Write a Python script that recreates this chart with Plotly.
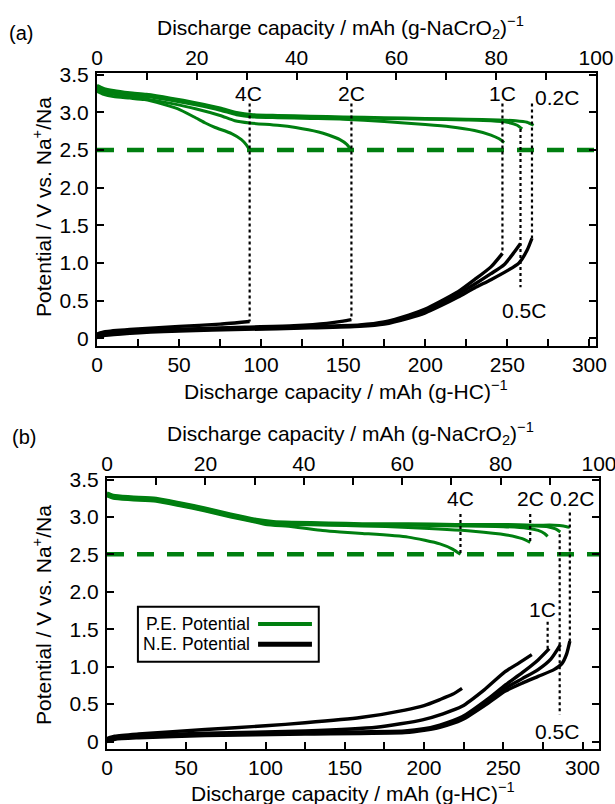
import plotly.graph_objects as go

W, H = 615, 804
FONT = "Liberation Sans, Arial, sans-serif"
GREEN = "#007f10"
BLACK = "#000000"

# ---------------- Panel (a) data: x = discharge capacity / mAh (g-HC)^-1 ----------------
rates = ["4C", "2C", "1C", "0.5C", "0.2C"]

# positive electrode potentials (a)
a_pe_4C_x = [0, 4, 10, 20, 29, 40, 49, 60, 66, 72, 82, 88, 91, 93]
a_pe_4C_y = [3.28, 3.24, 3.21, 3.19, 3.17, 3.11, 3.05, 2.93, 2.86, 2.80, 2.72, 2.64, 2.57, 2.50]
a_pe_2C_x = [0, 4, 10, 20, 30, 45, 60, 75, 84, 93, 110, 121, 135, 141, 148, 152, 155]
a_pe_2C_y = [3.30, 3.26, 3.24, 3.21, 3.18, 3.12, 3.05, 2.96, 2.89, 2.86, 2.83, 2.80, 2.74, 2.70, 2.64, 2.58, 2.50]
a_pe_1C_x = [0, 4, 10, 20, 30, 45, 60, 75, 85, 95, 110, 130, 150, 175, 200, 215, 230, 240, 245, 248]
a_pe_1C_y = [3.32, 3.28, 3.26, 3.23, 3.21, 3.16, 3.10, 3.03, 2.97, 2.94, 2.93, 2.92, 2.91, 2.88, 2.84, 2.81, 2.76, 2.70, 2.65, 2.60]
a_pe_05C_x = [0, 4, 10, 20, 30, 45, 60, 75, 85, 95, 110, 130, 150, 175, 200, 225, 240, 250, 256, 259]
a_pe_05C_y = [3.34, 3.30, 3.28, 3.25, 3.23, 3.18, 3.12, 3.05, 2.99, 2.96, 2.95, 2.94, 2.93, 2.92, 2.91, 2.90, 2.89, 2.87, 2.83, 2.78]
a_pe_02C_x = [0, 4, 10, 20, 30, 45, 60, 75, 85, 95, 110, 130, 150, 175, 200, 225, 245, 255, 262, 266]
a_pe_02C_y = [3.36, 3.32, 3.29, 3.26, 3.24, 3.19, 3.13, 3.06, 3.00, 2.97, 2.96, 2.95, 2.94, 2.93, 2.92, 2.91, 2.90, 2.89, 2.87, 2.83]

# negative electrode potentials (a)
a_ne_4C_x = [0, 5, 20, 50, 75, 93]
a_ne_4C_y = [0.06, 0.09, 0.12, 0.16, 0.19, 0.225]
a_ne_2C_x = [0, 5, 20, 50, 90, 120, 140, 150, 155]
a_ne_2C_y = [0.04, 0.07, 0.09, 0.12, 0.15, 0.17, 0.20, 0.23, 0.25]
a_ne_1C_x = [0, 5, 20, 50, 90, 130, 160, 175, 190, 200, 210, 220, 230, 240, 247]
a_ne_1C_y = [0.03, 0.06, 0.09, 0.12, 0.14, 0.16, 0.18, 0.22, 0.31, 0.39, 0.50, 0.62, 0.78, 0.95, 1.13]
a_ne_05C_x = [0, 5, 20, 50, 90, 130, 160, 175, 190, 200, 210, 220, 230, 240, 248, 254, 258]
a_ne_05C_y = [0.02, 0.05, 0.08, 0.11, 0.13, 0.15, 0.17, 0.21, 0.29, 0.37, 0.47, 0.59, 0.72, 0.86, 0.98, 1.14, 1.26]
a_ne_02C_x = [0, 5, 20, 50, 90, 130, 160, 175, 190, 200, 210, 220, 230, 240, 250, 257, 262, 265]
a_ne_02C_y = [0.01, 0.04, 0.07, 0.10, 0.12, 0.14, 0.16, 0.19, 0.27, 0.34, 0.44, 0.55, 0.67, 0.78, 0.90, 1.00, 1.17, 1.33]

# dotted rate markers (a)
a_mark_x = [93, 155, 247, 258, 265]
a_mark_top = [3.12, 3.12, 3.12, 2.78, 3.12]
a_mark_bottom = [0.225, 0.25, 1.13, 0.68, 1.33]
a_label_x = [92, 155, 247, 260, 280]
a_label_y = [3.25, 3.25, 3.25, 0.37, 3.20]

# ---------------- Panel (b) data ----------------
b_pe_4C_x = [0, 4, 15, 31, 46, 62, 78, 94, 100, 117, 136, 147, 161, 190, 210, 218, 223]
b_pe_4C_y = [3.28, 3.25, 3.23, 3.21, 3.15, 3.08, 3.00, 2.93, 2.90, 2.87, 2.82, 2.80, 2.78, 2.73, 2.64, 2.57, 2.50]
b_pe_2C_x = [0, 4, 15, 31, 46, 62, 78, 94, 105, 117, 140, 161, 190, 231, 252, 262, 267]
b_pe_2C_y = [3.29, 3.26, 3.24, 3.22, 3.16, 3.09, 3.01, 2.94, 2.91, 2.90, 2.89, 2.88, 2.86, 2.81, 2.76, 2.71, 2.66]
b_pe_1C_x = [0, 4, 15, 31, 46, 62, 78, 94, 105, 117, 140, 161, 190, 220, 250, 265, 272, 276, 278]
b_pe_1C_y = [3.30, 3.27, 3.25, 3.23, 3.17, 3.10, 3.02, 2.95, 2.92, 2.91, 2.90, 2.89, 2.89, 2.88, 2.87, 2.85, 2.82, 2.78, 2.74]
b_pe_05C_x = [0, 4, 15, 31, 46, 62, 78, 94, 105, 117, 140, 161, 190, 220, 250, 270, 278, 283, 286]
b_pe_05C_y = [3.31, 3.28, 3.26, 3.24, 3.18, 3.11, 3.03, 2.96, 2.93, 2.92, 2.91, 2.90, 2.90, 2.89, 2.89, 2.88, 2.87, 2.84, 2.80]
b_pe_02C_x = [0, 4, 15, 31, 46, 62, 78, 94, 105, 117, 140, 161, 190, 220, 250, 270, 282, 288, 292]
b_pe_02C_y = [3.32, 3.29, 3.27, 3.25, 3.19, 3.12, 3.04, 2.97, 2.94, 2.93, 2.92, 2.91, 2.91, 2.90, 2.90, 2.89, 2.89, 2.88, 2.86]

b_ne_4C_x = [0, 5, 20, 62, 100, 125, 160, 188, 200, 210, 218, 224]
b_ne_4C_y = [0.04, 0.07, 0.10, 0.16, 0.21, 0.25, 0.32, 0.42, 0.48, 0.56, 0.63, 0.71]
b_ne_2C_x = [0, 5, 20, 62, 125, 170, 199, 212, 224, 238, 251, 260, 268]
b_ne_2C_y = [0.03, 0.06, 0.08, 0.11, 0.14, 0.19, 0.29, 0.37, 0.47, 0.69, 0.93, 1.05, 1.16]
b_ne_1C_x = [0, 5, 20, 62, 125, 188, 200, 210, 224, 241, 251, 262, 272, 279]
b_ne_1C_y = [0.02, 0.05, 0.07, 0.10, 0.12, 0.14, 0.17, 0.22, 0.33, 0.58, 0.75, 0.92, 1.09, 1.24]
b_ne_05C_x = [0, 5, 20, 62, 125, 188, 200, 210, 224, 241, 251, 262, 272, 280, 286]
b_ne_05C_y = [0.01, 0.04, 0.06, 0.09, 0.11, 0.13, 0.16, 0.20, 0.31, 0.55, 0.71, 0.84, 0.96, 1.10, 1.29]
b_ne_02C_x = [0, 5, 20, 62, 125, 188, 200, 210, 224, 241, 251, 262, 272, 282, 287, 290, 292]
b_ne_02C_y = [0.00, 0.03, 0.05, 0.08, 0.10, 0.12, 0.15, 0.19, 0.29, 0.52, 0.67, 0.78, 0.87, 0.96, 1.04, 1.17, 1.34]

b_mark_x = [223, 267, 278, 285.6, 292]
b_mark_top = [3.04, 3.04, 1.60, 2.77, 3.06]
b_mark_bottom = [2.50, 2.66, 1.24, 0.36, 1.33]
b_label_x = [223, 267, 275, 284, 293.5]
b_label_y = [3.24, 3.24, 1.76, 0.13, 3.24]

cutoff_v = 2.5

y_ticks = [0, 0.5, 1.0, 1.5, 2.0, 2.5, 3.0, 3.5]
y_ticktext = ["0", "0.5", "1.0", "1.5", "2.0", "2.5", "3.0", "3.5"]
hc_ticks = [0, 50, 100, 150, 200, 250, 300]
hc_minor = [25, 75, 125, 175, 225, 275]
cat_ticks = [0, 20, 40, 60, 80, 100]
cat_minor = [10, 30, 50, 70, 90]

# ---------------- geometry (pixels) ----------------
A = dict(l=97, r=596, t=72.5, b=346, xr=[0, 304], yr=[-0.1, 3.53])
B = dict(l=107, r=599, t=478, b=749, xr=[0, 310.4], yr=[-0.1, 3.52])

def px(x):
    return x / W

def py(y):
    return 1 - y / H

fig = go.Figure()

def add_panel(xa, xa_top, ya, pe, ne, mark_x, mark_top, mark_bot):
    fig.add_trace(go.Scatter(x=[0, 400], y=[cutoff_v, cutoff_v], mode="lines",
                             line=dict(color=GREEN, width=4.5, dash="17px,13px"),
                             xaxis=xa, yaxis=ya, showlegend=False, hoverinfo="skip"))
    for xs, ys in ne:
        fig.add_trace(go.Scatter(x=xs, y=ys, mode="lines",
                                 line=dict(color=BLACK, width=3.4, shape="spline", smoothing=0.6),
                                 xaxis=xa, yaxis=ya, showlegend=False))
    for xs, ys in pe:
        fig.add_trace(go.Scatter(x=xs, y=ys, mode="lines",
                                 line=dict(color=GREEN, width=3, shape="spline", smoothing=0.6),
                                 xaxis=xa, yaxis=ya, showlegend=False))
    for mx, mt, mb in zip(mark_x, mark_top, mark_bot):
        fig.add_trace(go.Scatter(x=[mx, mx], y=[mt, mb], mode="lines",
                                 line=dict(color=BLACK, width=2.2, dash="dot"),
                                 xaxis=xa, yaxis=ya, showlegend=False, hoverinfo="skip"))
    fig.add_trace(go.Scatter(x=[0, 100], y=[None, None], mode="lines", xaxis=xa_top, yaxis=ya,
                             showlegend=False, hoverinfo="skip"))

add_panel("x", "x2", "y",
          [(a_pe_4C_x, a_pe_4C_y), (a_pe_2C_x, a_pe_2C_y), (a_pe_1C_x, a_pe_1C_y),
           (a_pe_05C_x, a_pe_05C_y), (a_pe_02C_x, a_pe_02C_y)],
          [(a_ne_4C_x, a_ne_4C_y), (a_ne_2C_x, a_ne_2C_y), (a_ne_1C_x, a_ne_1C_y),
           (a_ne_05C_x, a_ne_05C_y), (a_ne_02C_x, a_ne_02C_y)],
          a_mark_x, a_mark_top, a_mark_bottom)
add_panel("x3", "x4", "y2",
          [(b_pe_4C_x, b_pe_4C_y), (b_pe_2C_x, b_pe_2C_y), (b_pe_1C_x, b_pe_1C_y),
           (b_pe_05C_x, b_pe_05C_y), (b_pe_02C_x, b_pe_02C_y)],
          [(b_ne_4C_x, b_ne_4C_y), (b_ne_2C_x, b_ne_2C_y), (b_ne_1C_x, b_ne_1C_y),
           (b_ne_05C_x, b_ne_05C_y), (b_ne_02C_x, b_ne_02C_y)],
          b_mark_x, b_mark_top, b_mark_bottom)

TICKFONT = dict(family=FONT, size=21, color="black")
common = dict(showline=True, linewidth=2, linecolor="black", ticks="inside", ticklen=7,
              tickwidth=1.5, tickcolor="black", showgrid=False, zeroline=False,
              tickfont=TICKFONT, automargin=False, fixedrange=True,
              ticklabeloverflow="allow")

def xbottom(P, anchor):
    return dict(common, domain=[px(P["l"]), px(P["r"])], range=P["xr"], anchor=anchor, side="bottom",
                tickmode="array", tickvals=hc_ticks, ticklabelstandoff=-1,
                minor=dict(tickmode="array", tickvals=hc_minor, ticks="inside", ticklen=7,
                           tickwidth=1.5, tickcolor="black"))

def xtop(over, anchor):
    return dict(common, overlaying=over, range=[0, 100], anchor=anchor, side="top",
                tickmode="array", tickvals=cat_ticks, ticklabelstandoff=-3,
                minor=dict(tickmode="array", tickvals=cat_minor, ticks="inside", ticklen=7,
                           tickwidth=1.5, tickcolor="black"))

def yax(P, anchor):
    return dict(common, domain=[py(P["b"]), py(P["t"])], range=P["yr"], anchor=anchor,
                tickmode="array", tickvals=y_ticks, ticktext=y_ticktext, mirror="ticks",
                ticklabelstandoff=2)

fig.update_layout(
    width=W, height=H, margin=dict(l=0, r=0, t=0, b=0),
    paper_bgcolor="white", plot_bgcolor="white",
    font=dict(family=FONT, color="black"),
    xaxis=xbottom(A, "y"), xaxis2=xtop("x", "y"), yaxis=yax(A, "x"),
    xaxis3=xbottom(B, "y2"), xaxis4=xtop("x3", "y2"), yaxis2=yax(B, "x3"),
    showlegend=False,
)

top_title = "Discharge capacity / mAh (g-NaCrO<sub>2</sub>)<sup>−1</sup>"
bot_title = "Discharge capacity / mAh (g-HC)<sup>−1</sup>"
ytitle = "Potential / V vs. Na<sup>+</sup>/Na"

ann = []
def paper_text(x, y, text, size=21, angle=0):
    ann.append(dict(xref="paper", yref="paper", x=px(x), y=py(y), text=text, showarrow=False,
                    xanchor="center", yanchor="middle", textangle=angle,
                    font=dict(family=FONT, size=size, color="black")))

paper_text(21, 33, "(a)", size=20)
paper_text(340, 28, top_title)
paper_text(346, 390, bot_title)
paper_text(42, 207, ytitle, angle=-90)
paper_text(24, 437, "(b)", size=20)
paper_text(350, 433, top_title)
paper_text(353, 792, bot_title)
paper_text(42, 615, ytitle, angle=-90)

for t, lx, ly in zip(rates, a_label_x, a_label_y):
    ann.append(dict(xref="x", yref="y", x=lx, y=ly, text=t, showarrow=False,
                    xanchor="center", yanchor="middle", font=dict(family=FONT, size=21, color="black")))
for t, lx, ly in zip(rates, b_label_x, b_label_y):
    ann.append(dict(xref="x3", yref="y2", x=lx, y=ly, text=t, showarrow=False,
                    xanchor="center", yanchor="middle", font=dict(family=FONT, size=21, color="black")))

legend_names = ["P.E. Potential", "N.E. Potential"]
legend_colors = [GREEN, BLACK]
legend_widths = [4, 5]
leg_y = [1.57, 1.30]
shapes = [dict(type="rect", xref="x3", yref="y2", x0=19.5, x1=133.6, y0=1.065, y1=1.80,
               line=dict(color="black", width=2), fillcolor="white", layer="above")]
for name, col, lw, yy in zip(legend_names, legend_colors, legend_widths, leg_y):
    ann.append(dict(xref="x3", yref="y2", x=91.5, y=yy, text=name, showarrow=False,
                    xanchor="right", yanchor="middle", font=dict(family=FONT, size=17.5, color="black")))
    shapes.append(dict(type="line", xref="x3", yref="y2", x0=95.3, x1=129.3, y0=yy, y1=yy,
                       line=dict(color=col, width=lw), layer="above"))

fig.update_layout(annotations=ann, shapes=shapes)
fig.write_html("out.html", config={"displayModeBar": False},
               post_script="document.body.style.margin='0px';")
